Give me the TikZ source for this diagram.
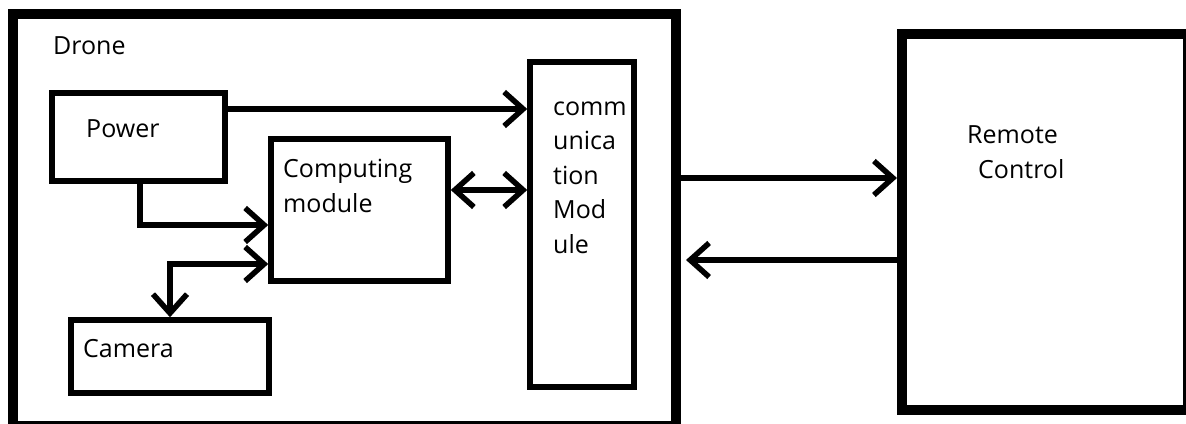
\documentclass[tikz,border=0pt]{standalone}
\usepackage{fontspec}
\setmainfont{Open Sans}
\usetikzlibrary{arrows.meta}
\begin{document}
\begin{tikzpicture}[x=1pt,y=-1pt,
  box/.style={draw, line width=5.5pt, inner sep=0pt},
  bigbox/.style={draw, line width=10pt, inner sep=0pt},
  conn/.style={line width=5.5pt},
  arr/.style={conn, -{Straight Barb[length=19pt,width=34pt]}},
  darr/.style={conn, {Straight Barb[length=19pt,width=34pt]}-{Straight Barb[length=19pt,width=34pt]}},
  lbl/.style={inner sep=0pt, font=\fontsize{25}{35}\selectfont, align=left, text=black}]
\useasboundingbox (0,0) rectangle (1186,423);
\clip (0,0) rectangle (1186,423);
% boxes
\node[bigbox, minimum width=663pt, minimum height=412pt] (drone) at (344.5,220) {};
\node[bigbox, minimum width=286pt, minimum height=376.5pt] (remote) at (1045,221.75) {};
\node[box, minimum width=173pt, minimum height=88pt] (power) at (138.5,137) {};
\node[box, minimum width=177pt, minimum height=142pt] (computing) at (359.5,210) {};
\node[box, minimum width=104pt, minimum height=325pt] (comm) at (582,224.5) {};
\node[box, minimum width=198pt, minimum height=73pt] (camera) at (170,356.5) {};
% texts
\node[lbl, anchor=base west] (dronetxt) at (53,54) {Drone};
\node[lbl, anchor=base west] (powertxt) at (86,137) {Power};
\node[lbl, anchor=base west] (cameratxt) at (83,357) {Camera};
\node[lbl, anchor=north west] (comptxt) at (283,159) {Computing\\module};
\node[lbl, anchor=north west, font=\fontsize{25}{34.5}\selectfont] (commtxt) at (553,101.5) {comm\\unica\\tion\\Mod\\ule};
\node[lbl, anchor=north west] (remtxt) at (967,125) {Remote\\\hspace*{11pt}Control};
% helper coordinates
\coordinate (yA) at (0,109);
\coordinate (yB) at (0,190);
\coordinate (yC) at (0,225);
\coordinate (xC) at (140,0);
\coordinate (yD) at (0,264);
\coordinate (yE) at (0,178);
\coordinate (yF) at (0,260);
% connectors
\draw[arr] (power.east |- yA) -- (comm.west |- yA);
\draw[darr] (computing.east |- yB) -- (comm.west |- yB);
\draw[arr] (power.south -| xC) |- (computing.west |- yC);
\draw[darr] (computing.west |- yD) -| (camera.north);
\draw[arr] (drone.east |- yE) -- (remote.west |- yE);
\draw[arr, shorten >=5pt] (remote.west |- yF) -- (drone.east |- yF);
\end{tikzpicture}
\end{document}
